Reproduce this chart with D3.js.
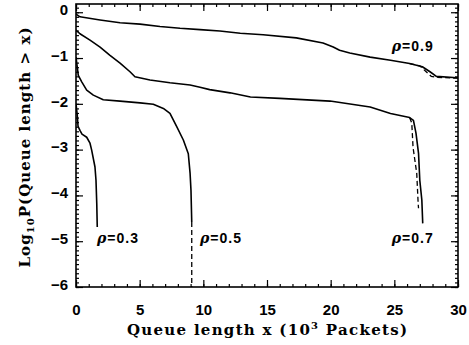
<!DOCTYPE html>
<html>
<head>
<meta charset="utf-8">
<script src="https://cdn.jsdelivr.net/npm/d3@7"></script>
<style>
  body { margin: 0; background: #fff; }
</style>
</head>
<body>
<div id="chart"></div>
<script>
// Simulated queue tail curves (solid), x in 10^3 packets, y = log10 P(Q > x)
var rho03 = [[0, -2.0], [0.1, -2.25], [0.16, -2.49], [0.31, -2.58], [0.47, -2.66], [0.84, -2.73],
    [1.1, -2.86], [1.23, -3.01], [1.49, -3.38], [1.57, -3.67], [1.63, -4.17], [1.67, -4.69]];
var rho05 = [[0, -0.98], [0.18, -1.38], [0.45, -1.52], [0.84, -1.7], [1.36, -1.81], [2.14, -1.91],
    [3.46, -1.94], [5.03, -1.98], [6.07, -2.01], [6.86, -2.1], [7.38, -2.21], [7.91, -2.5],
    [8.43, -2.79], [8.82, -3.09], [8.96, -3.52], [9.03, -3.89], [9.09, -4.58]];
var rho07 = [[0, -0.39], [0.31, -0.47], [1.1, -0.61], [1.89, -0.76], [2.67, -0.94], [3.46, -1.11],
    [4.24, -1.3], [4.63, -1.41], [5.81, -1.48], [7.38, -1.54], [8.96, -1.59], [9.74, -1.64],
    [10.5, -1.69], [12.1, -1.76], [13.7, -1.85], [16.0, -1.88], [19.95, -1.94], [23.1, -2.07],
    [24.7, -2.21], [26.2, -2.3], [26.5, -2.36], [26.7, -2.64], [26.9, -3.08], [27.0, -3.67],
    [27.16, -4.1], [27.23, -4.61]];
var rho09 = [[0, -0.04], [0.31, -0.1], [1.89, -0.17], [3.46, -0.23], [5.03, -0.26], [6.6, -0.31],
    [8.17, -0.35], [9.74, -0.38], [11.3, -0.41], [12.9, -0.46], [14.7, -0.49], [17.3, -0.56],
    [19.4, -0.67], [20.2, -0.76], [20.7, -0.83], [21.5, -0.89], [23.1, -0.98], [24.7, -1.05],
    [26.2, -1.12], [27.2, -1.19], [27.8, -1.3], [28.3, -1.4], [29.9, -1.43], [30, -1.43]];

// Analytical curves (dashed), only where they leave the solid ones
var dash05 = [[9.09, -4.58], [9.09, -6.0]];
var dash07 = [[26.2, -2.3], [26.37, -2.42], [26.47, -2.95], [26.76, -3.52], [26.87, -4.17], [26.9, -4.28]];
var dash09 = [[26.2, -1.12], [27.0, -1.17], [27.5, -1.3], [27.9, -1.4], [28.3, -1.42], [30, -1.44]];

var labels = [
    { text: "0.3", x: 1.65, y: -5.04 },
    { text: "0.5", x: 9.74, y: -5.04 },
    { text: "0.7", x: 24.8, y: -5.04 },
    { text: "0.9", x: 24.8, y: -0.85 }
];

var xTicks = [0, 5, 10, 15, 20, 25, 30];
var yTicks = [0, -1, -2, -3, -4, -5, -6];

var width = 469, height = 345;
var margin = { top: 4, right: 11, bottom: 58, left: 76 };

var svg = d3.select("#chart").append("svg")
    .attr("width", width)
    .attr("height", height);

var x = d3.scaleLinear().domain([0, 30]).range([margin.left, width - margin.right]);
var y = d3.scaleLinear().domain([-6, 0.18]).range([height - margin.bottom, margin.top]);

var tickFont = "'Liberation Sans', Arial, sans-serif";
var minus = d => d3.format("")(d).replace("-", "\u2212");

// minor ticks
var xMinor = d3.range(0, 31, 1);
var yMinor = d3.range(-60, 2, 1).map(d => d / 10);

function styleAxis(g) {
    g.select(".domain").remove();
    g.selectAll(".tick line").attr("stroke", "#000").attr("stroke-width", 1.2);
}

svg.append("g")
    .attr("transform", `translate(0,${y.range()[0]})`)
    .call(d3.axisBottom(x).tickValues(xMinor).tickSize(-3).tickFormat(""))
    .call(styleAxis);
svg.append("g")
    .attr("transform", `translate(0,${y.range()[0]})`)
    .call(d3.axisBottom(x).tickValues(xTicks).tickSize(-7).tickPadding(17).tickFormat(d3.format("")))
    .call(styleAxis)
    .call(g => g.selectAll(".tick text")
        .attr("font-family", tickFont).attr("font-weight", "bold").attr("font-size", 15).attr("fill", "#000"));

svg.append("g")
    .attr("transform", `translate(0,${margin.top})`)
    .call(d3.axisTop(x).tickValues(xMinor).tickSize(-3).tickFormat(""))
    .call(styleAxis);
svg.append("g")
    .attr("transform", `translate(0,${margin.top})`)
    .call(d3.axisTop(x).tickValues(xTicks).tickSize(-7).tickFormat(""))
    .call(styleAxis);

svg.append("g")
    .attr("transform", `translate(${margin.left},0)`)
    .call(d3.axisLeft(y).tickValues(yMinor).tickSize(-3).tickFormat(""))
    .call(styleAxis);
svg.append("g")
    .attr("transform", `translate(${margin.left},0)`)
    .call(d3.axisLeft(y).tickValues(yTicks).tickSize(-7).tickPadding(8).tickFormat(minus))
    .call(styleAxis)
    .call(g => g.selectAll(".tick text")
        .attr("dy", "0.15em")
        .attr("font-family", tickFont).attr("font-weight", "bold").attr("font-size", 15).attr("fill", "#000"));

svg.append("g")
    .attr("transform", `translate(${x.range()[1]},0)`)
    .call(d3.axisRight(y).tickValues(yMinor).tickSize(-3).tickFormat(""))
    .call(styleAxis);
svg.append("g")
    .attr("transform", `translate(${x.range()[1]},0)`)
    .call(d3.axisRight(y).tickValues(yTicks).tickSize(-7).tickFormat(""))
    .call(styleAxis);

// frame
svg.append("rect")
    .attr("x", x.range()[0])
    .attr("y", y.range()[1])
    .attr("width", x.range()[1] - x.range()[0])
    .attr("height", y.range()[0] - y.range()[1])
    .attr("fill", "none")
    .attr("stroke", "#000")
    .attr("stroke-width", 1.6);

// curves
var line = d3.line().x(d => x(d[0])).y(d => y(d[1]));

svg.append("clipPath").attr("id", "plot")
    .append("rect")
    .attr("x", x.range()[0]).attr("y", y.range()[1])
    .attr("width", x.range()[1] - x.range()[0])
    .attr("height", y.range()[0] - y.range()[1]);

var curves = svg.append("g").attr("clip-path", "url(#plot)");

curves.selectAll("path.solid")
    .data([rho03, rho05, rho07, rho09])
    .join("path")
    .attr("class", "solid")
    .attr("d", line)
    .attr("fill", "none")
    .attr("stroke", "#000")
    .attr("stroke-width", 1.6)
    .attr("stroke-linejoin", "round");

curves.selectAll("path.dash")
    .data([dash05, dash07, dash09])
    .join("path")
    .attr("class", "dash")
    .attr("d", line)
    .attr("fill", "none")
    .attr("stroke", "#000")
    .attr("stroke-width", 1.3)
    .attr("stroke-dasharray", "5,3");

// curve labels
var lab = svg.append("g")
    .attr("font-family", tickFont)
    .attr("font-weight", "bold")
    .attr("font-size", 14)
    .attr("letter-spacing", 1);
lab.selectAll("text")
    .data(labels)
    .join("text")
    .attr("x", d => x(d.x))
    .attr("y", d => y(d.y))
    .each(function (d) {
        var t = d3.select(this);
        t.append("tspan").attr("font-style", "italic").attr("font-family", "'DejaVu Serif', serif").text("\u03c1");
        t.append("tspan").text("=" + d.text);
    });

// axis titles
var titleFont = "'DejaVu Serif', 'Liberation Serif', serif";
var xt = svg.append("text")
    .attr("x", (x.range()[0] + x.range()[1]) / 2)
    .attr("y", 335)
    .attr("text-anchor", "middle")
    .attr("font-family", titleFont)
    .attr("font-weight", "bold")
    .attr("font-size", 15)
    .attr("textLength", 280)
    .attr("lengthAdjust", "spacing");
xt.append("tspan").text("Queue length x (10");
xt.append("tspan").attr("dy", -6).attr("font-size", 10).text("3");
xt.append("tspan").attr("dy", 6).text(" Packets)");

var yt = svg.append("text")
    .attr("transform", `translate(30,${(y.range()[0] + y.range()[1]) / 2 + 2}) rotate(-90)`)
    .attr("text-anchor", "middle")
    .attr("font-family", titleFont)
    .attr("font-weight", "bold")
    .attr("font-size", 15)
    .attr("textLength", 240)
    .attr("lengthAdjust", "spacing");
yt.append("tspan").text("Log");
yt.append("tspan").attr("dy", 4).attr("font-size", 10).text("10");
yt.append("tspan").attr("dy", -4).text("P(Queue length > x)");
</script>
</body>
</html>
